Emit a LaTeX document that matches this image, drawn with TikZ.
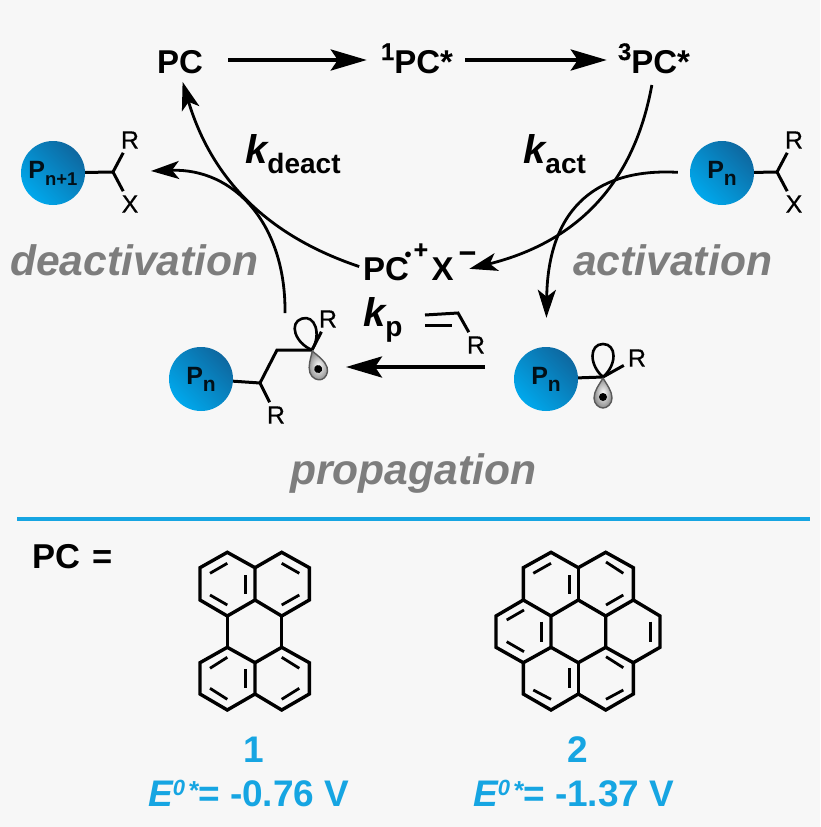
\documentclass[tikz,border=0pt]{standalone}
\usepackage{fontspec}
\setmainfont{Liberation Sans}
\newfontfamily\atomfont[FakeBold=0.5]{Liberation Sans}
\usetikzlibrary{arrows.meta,calc}
\definecolor{pagegrey}{RGB}{247,247,247}
\definecolor{beadblue}{RGB}{0,168,236}
\definecolor{beaddark}{RGB}{14,104,160}
\definecolor{rulecyan}{RGB}{22,165,226}
\definecolor{stepgrey}{RGB}{125,125,125}
\newcommand{\sized}[1]{\fontsize{#1}{#1}\selectfont}
\newcommand{\topsup}[1]{\raisebox{13pt}{\sized{24}\atomfont #1}}
\newcommand{\ratelab}[1]{{\sized{40}\bfseries\itshape k}\raisebox{-10pt}{\sized{28}\bfseries #1}}
\newcommand{\chain}[2]{{\sized{25}P}\raisebox{-7pt}{\sized{#1}#2}}
\newcommand{\redpot}[1]{{\itshape E\raisebox{11pt}{\sized{22}0}\kern3pt\raisebox{7pt}{\sized{26}*}}= -#1 V}
% p orbital on a carbon, origin at the carbon
\newcommand{\lobes}[2]{%
  \begin{scope}[shift={(#1)},rotate=#2]
    \draw[line width=2.6pt] (0,0) .. controls (-14,-12) and (-14,-33) .. (0,-33) .. controls (14,-33) and (14,-12) .. (0,0);
    \path[draw=black!65,line width=1.4pt,inner color=white,outer color=black!45] (0,1) .. controls (-4,8) and (-9,14) .. (-9,21) .. controls (-9,27) and (-4,31) .. (0,31) .. controls (4,31) and (9,27) .. (9,21) .. controls (9,14) and (4,8) .. (0,1);
    \fill (0,20) circle (4);
  \end{scope}}
\begin{document}
\begin{tikzpicture}[
  x=1pt, y=-1pt,
  species/.style={inner sep=0pt, font=\sized{33}\bfseries, text height=26pt, text depth=0pt},
  atomlab/.style={inner sep=4pt, font=\sized{25}\atomfont},
  ratelabel/.style={inner sep=0pt, anchor=base west},
  steplabel/.style={inner sep=0pt, anchor=base west, text=stepgrey, font=\sized{42.6}\bfseries\itshape},
  bead/.style={circle, minimum size=64pt, inner sep=0pt, shading=axis, left color=beaddark, right color=beadblue, shading angle=-45, font=\bfseries, text=black!85!beaddark},
  potential/.style={inner sep=0pt, text=rulecyan, font=\sized{37}\bfseries},
  bond/.style={line width=3pt},
  ring/.style={line width=3.4pt, line join=miter},
  ringtwo/.style={line width=2.8pt},
  straight/.style={line width=4pt, -{Stealth[length=36pt,width=21pt,inset=7pt]}},
  curved/.style={line width=2.8pt, -{Stealth[length=28pt,width=18pt,inset=7pt]}}
]
\useasboundingbox (0,0) rectangle (820,827);
\fill[pagegrey] (0,0) rectangle (820,827);

% catalyst cycle
\node[species, anchor=base] (pc) at (180,73) {PC};
\node[species, anchor=base] (pcsing) at (417,73) {\topsup{1}PC*};
\node[species, anchor=base] (pctrip) at (654,73) {\topsup{3}PC*};
\node[inner sep=0pt, anchor=base west, font=\sized{33}\bfseries] (radical) at (363,280) {PC\kern-4.5pt\raisebox{19pt}{\sized{20}•}\kern2pt\raisebox{22pt}{\sized{25}\atomfont +}\kern3.5ptX\kern5pt\raisebox{17pt}{\sized{30}\atomfont −}};

% polymer beads
\node[bead] (beadx) at (53,173) {\chain{18.5}{n+1}};
\node[bead] (beady) at (722,173) {\chain{21}{n}};
\node[bead] (beadl) at (201,379) {\chain{21}{n}};
\node[bead] (beadr) at (546,379) {\chain{21}{n}};

% end groups
\node[atomlab] (rx) at (130,140) {R};
\node[atomlab] (xx) at (130,204) {X};
\node[atomlab] (ry) at (794,140) {R};
\node[atomlab] (xy) at (794,204) {X};
\node[atomlab] (rl) at (276,415) {R};
\node[atomlab] (rt) at (328,319) {R};
\node[atomlab] (rr) at (637,358) {R};
\node[atomlab] (rm) at (476,345) {R};

\coordinate (cx) at (113,172);
\coordinate (cy) at (777,172);
\coordinate (cl) at (260,383);
\coordinate (cr) at (603,377);
\coordinate (ct) at (312,350);
\coordinate (cm) at (277,350);
\draw[bond] (beadx) -- (cx);
\draw[bond] (rx) -- (cx) -- (xx);
\draw[bond] (beady) -- (cy);
\draw[bond] (ry) -- (cy) -- (xy);
\draw[bond] (beadl) -- (cl) -- (cm) -- (ct);
\draw[bond] (cl) -- (rl);
\draw[bond] (beadr) -- (cr);
\draw[bond] (cr) -- (rr);
\draw[bond] (ct) -- (rt);
\lobes{ct}{18}
\lobes{cr}{0}

% monomer
\coordinate (vinyl) at (458,313);
\coordinate (vinyla) at (425,315);
\coordinate (vinylb) at (425,325);
\coordinate (vinylc) at (452,325);
\draw[bond] (vinyla) -- (vinyl) -- (rm);
\draw[bond] (vinylb) -- (vinylc);

% cycle arrows
\coordinate (capstart) at (285,313);
\coordinate (captip) at (151,171);
\coordinate (addstart) at (485,367);
\coordinate (addtip) at (346,367);
\draw[straight, shorten <=25pt, shorten >=14pt] (pc) -- (pcsing);
\draw[straight, shorten <=12pt, shorten >=11pt] (pcsing) -- (pctrip);
\draw[curved, shorten <=4pt, shorten >=9pt] ([yshift=-6pt]radical.west) .. controls (280,240) and (215,190) .. (pc.south);
\draw[curved] (capstart) .. controls (286,225) and (235,168) .. (captip);
\draw[curved, shorten <=12pt] (pctrip.south) .. controls (640,150) and (605,235) .. ([xshift=-7pt,yshift=-7pt]radical.east);
\draw[curved, shorten <=12pt, shorten >=29pt] (beady.west) .. controls (600,168) and (548,205) .. (beadr.north);
\draw[straight] (addstart) -- (addtip);

% rate constants and step names
\node[ratelabel] (kdeact) at (245,163) {\ratelab{deact}};
\node[ratelabel] (kact) at (523,163) {\ratelab{act}};
\node[ratelabel] (kp) at (363,326) {\ratelab{p}};
\node[steplabel] (deact) at (10,275) {deactivation};
\node[steplabel] (act) at (573,275) {activation};
\node[steplabel] (prop) at (290,484) {propagation};

% photocatalysts
\draw[line width=3.6pt, rulecyan] (17,519) -- (810,519);
\node[inner sep=0pt, anchor=base west, font=\sized{34.5}\bfseries] (pceq) at (32,568) {PC\kern12pt=};

% perylene
\draw[ring] (227.3,552.3) -- (200,567.7) -- (200,600) -- (227.3,616) -- (255,600) -- (255,567.7) -- cycle;
\draw[ring] (255,567.7) -- (281.7,552.3) -- (309.3,567.7) -- (309.3,600) -- (281.7,616) -- (255,600);
\draw[ring] (227.3,647.3) -- (200,662.7) -- (200,694) -- (227.3,710) -- (255,694) -- (255,662.7) -- cycle;
\draw[ring] (255,694) -- (281.7,710) -- (309.3,694) -- (309.3,662.7) -- (281.7,647.3) -- (255,662.7);
\draw[ring] (227.3,616) -- (227.3,647.3);
\draw[ring] (281.7,616) -- (281.7,647.3);
\foreach \xa/\ya/\xb/\yb in {210/573.3/227.3/563.3, 245.7/575/245.7/594.3, 210/595/227.3/605,
  281.7/563.3/299.3/573.3, 281.7/605/299.3/595, 210/668.3/227.3/657.3, 245.7/669.3/245.7/688.3,
  210/688.3/227.3/699.3, 281.7/657.3/299.3/668.3, 281.7/699.3/299.3/688.3}
  \draw[ringtwo] (\xa,\ya) -- (\xb,\yb);

% coronene
\draw[ring] (551,552.3) -- (523.3,567.7) -- (523.3,600) -- (496,616) -- (496,647.3) -- (523.3,662.7) -- (523.3,694) -- (551,710) -- (578.3,694) -- (605.7,710) -- (633.3,694) -- (633.3,662.7) -- (660,647.3) -- (660,616) -- (633.3,600) -- (633.3,567.7) -- (605.7,552.3) -- (578.3,567.7) -- cycle;
\draw[ring] (578.3,600) -- (605.7,616) -- (605.7,647.3) -- (578.3,662.7) -- (551,647.3) -- (551,616) -- cycle;
\foreach \xa/\ya/\xb/\yb in {578.3/567.7/578.3/600, 523.3/600/551/616, 633.3/600/605.7/616,
  523.3/662.7/551/647.3, 633.3/662.7/605.7/647.3, 578.3/694/578.3/662.7}
  \draw[ring] (\xa,\ya) -- (\xb,\yb);
\foreach \xa/\ya/\xb/\yb in {533.3/573.3/551/563.3, 569.3/575/569.3/594.3, 606/605/623.3/595,
  606/562/623.3/573.3, 506.7/620/524/610, 541.7/621.7/541.7/641.7, 506.7/641.7/524/651.7,
  569.3/668.3/569.3/688.3, 533.3/690/551/699.3, 606/699.3/623.3/690, 606/656.7/623.3/667.7,
  650.7/621.7/650.7/641.7}
  \draw[ringtwo] (\xa,\ya) -- (\xb,\yb);

\node[potential, anchor=base] (numa) at (254,762) {1};
\node[potential, anchor=base] (numb) at (578,762) {2};
\node[potential, anchor=base west] (pota) at (148,806) {\redpot{0.76}};
\node[potential, anchor=base west] (potb) at (473,806) {\redpot{1.37}};
\end{tikzpicture}
\end{document}
